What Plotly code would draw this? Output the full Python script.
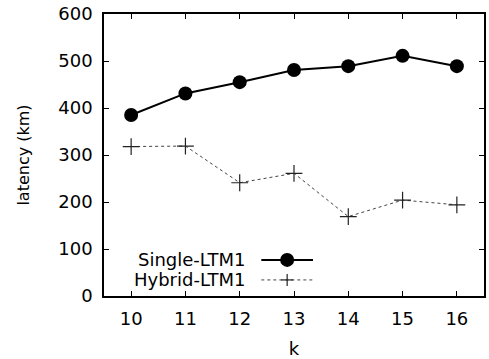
import plotly.graph_objects as go

k_values = [10, 11, 12, 13, 14, 15, 16]
single_ltm1 = [385, 431, 455, 481, 489, 511, 489]
hybrid_ltm1 = [318, 319, 241, 261, 169, 204, 194]
y_ticks = [0, 100, 200, 300, 400, 500, 600]

FONT = "DejaVu Sans, Arial, sans-serif"
FS = 18

fig = go.Figure()
fig.add_trace(go.Scatter(
    x=k_values, y=hybrid_ltm1, mode="lines+markers", name="Hybrid-LTM1",
    line=dict(color="#444444", width=1, dash="dot"),
    marker=dict(symbol="cross-thin", size=12, line=dict(color="#222222", width=1.2)),
    showlegend=False,
))
fig.add_trace(go.Scatter(
    x=k_values, y=single_ltm1, mode="lines+markers", name="Single-LTM1",
    line=dict(color="black", width=2),
    marker=dict(symbol="circle", size=14, color="black"),
    showlegend=False,
))

# Legend block: right-aligned labels with line samples to their right
legend_rows = [("Single-LTM1", 0.128), ("Hybrid-LTM1", 0.057)]
for label, yp in legend_rows:
    fig.add_annotation(x=0.375, y=yp, xref="paper", yref="paper", text=label,
                       showarrow=False, xanchor="right", yanchor="middle",
                       font=dict(family=FONT, size=FS, color="black"))

x0, x1, xm = 0.414, 0.550, 0.482
y_s, y_h = legend_rows[0][1], legend_rows[1][1]
fig.add_shape(type="line", xref="paper", yref="paper", x0=x0, x1=x1, y0=y_s, y1=y_s,
              line=dict(color="black", width=2))
fig.add_shape(type="circle", xref="paper", yref="paper", xsizemode="pixel", ysizemode="pixel",
              xanchor=xm, yanchor=y_s, x0=-7, x1=7, y0=-7, y1=7,
              fillcolor="black", line=dict(color="black", width=0))
fig.add_shape(type="line", xref="paper", yref="paper", x0=x0, x1=x1, y0=y_h, y1=y_h,
              line=dict(color="#444444", width=1, dash="dot"))
fig.add_shape(type="line", xref="paper", yref="paper", xsizemode="pixel", ysizemode="pixel",
              xanchor=xm, yanchor=y_h, x0=-6, x1=6, y0=0, y1=0,
              line=dict(color="#222222", width=1.2))
fig.add_shape(type="line", xref="paper", yref="paper", xsizemode="pixel", ysizemode="pixel",
              xanchor=xm, yanchor=y_h, x0=0, x1=0, y0=-6, y1=6,
              line=dict(color="#222222", width=1.2))

axis_common = dict(
    showgrid=False, zeroline=False, showline=True, linecolor="black", linewidth=1.5,
    mirror="allticks", ticks="inside", ticklen=5, tickcolor="black", tickwidth=1,
    tickfont=dict(family=FONT, size=FS, color="black"),
)
fig.update_xaxes(range=[9.5, 16.5], tickvals=k_values, ticklabelstandoff=6, **axis_common,
                 title=dict(text="k", font=dict(family=FONT, size=FS, color="black"), standoff=14))
fig.update_yaxes(range=[0, 600], tickvals=y_ticks, ticklabelstandoff=6, **axis_common,
                 title=dict(text="latency (km)", font=dict(family=FONT, size=16, color="black"), standoff=25))

fig.update_layout(
    width=489, height=359,
    margin=dict(l=104, r=3, t=14, b=63),
    paper_bgcolor="white", plot_bgcolor="white",
)

fig.write_html("out.html")
